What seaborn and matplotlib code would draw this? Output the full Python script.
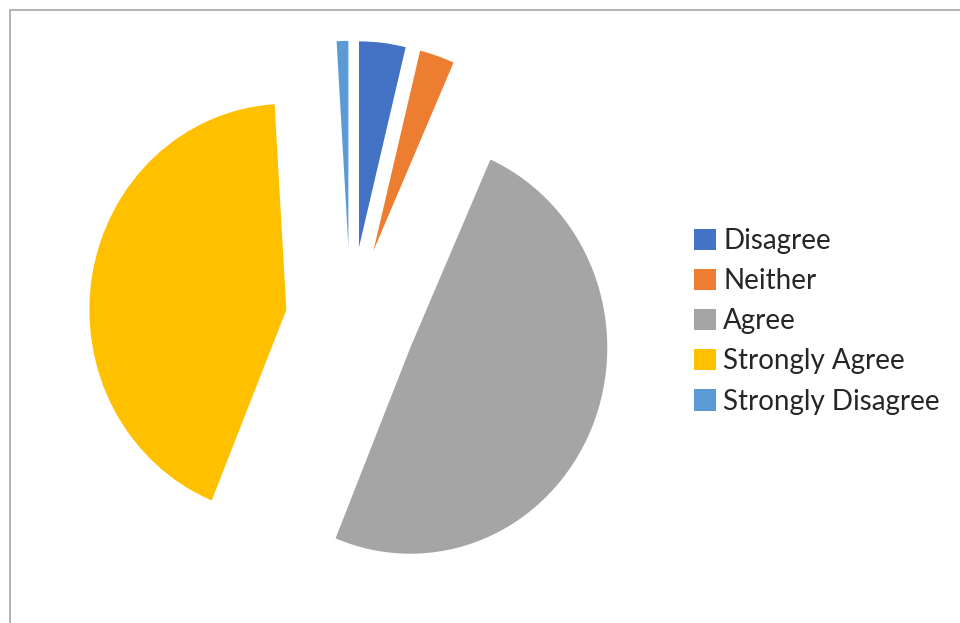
import matplotlib
matplotlib.use("Agg")
import matplotlib.pyplot as plt
from matplotlib.patches import Rectangle
import seaborn as sns

# Survey responses (counts per answer)
categories = ["Disagree", "Neither", "Agree", "Strongly Agree", "Strongly Disagree"]
responses = [4, 3, 52, 45, 1]
colors = ["#4472C4", "#ED7D31", "#A5A5A5", "#FFC000", "#5B9BD5"]
explode = [0.36, 0.36, 0.33, 0.33, 0.36]

sns.set_theme(style="white")
plt.rcParams["font.family"] = ["Lato", "DejaVu Sans"]

W, H = 960, 623
fig = plt.figure(figsize=(W / 100, H / 100), dpi=100)
fig.patch.set_facecolor("white")
ax = fig.add_axes([0, 0, 1, 1])

# pie geometry in pixels (horizontal / vertical radius, centre)
rx, ry = 197, 206
cx, cy = 350.5, 321

wedges, _ = ax.pie(
    responses,
    colors=colors,
    explode=explode,
    startangle=90,
    counterclock=False,
    radius=1,
    wedgeprops=dict(linewidth=0),
)
ax.set_aspect("auto")
ax.set_xlim(-cx / rx, (W - cx) / rx)
ax.set_ylim(-(H - cy) / ry, cy / ry)
ax.axis("off")

# chart-area border
fig.add_artist(Rectangle((9.5 / W, -0.5), 2, 1.5 - 9.5 / H,
                         transform=fig.transFigure, fill=False,
                         edgecolor="#A6A6A6", linewidth=1.2))

fs = 20
fs_px = fs * 100 / 72
fig.legend(
    wedges, categories,
    loc="upper left",
    bbox_to_anchor=(694 / W, 1 - 228 / H),
    bbox_transform=fig.transFigure,
    frameon=False,
    fontsize=fs,
    handlelength=22 / fs_px,
    handleheight=22 / fs_px,
    handletextpad=7 / fs_px,
    labelspacing=0.51,
    borderpad=0,
    borderaxespad=0,
    labelcolor="#262626",
)

fig.savefig("out.png", dpi=100, facecolor="white")
